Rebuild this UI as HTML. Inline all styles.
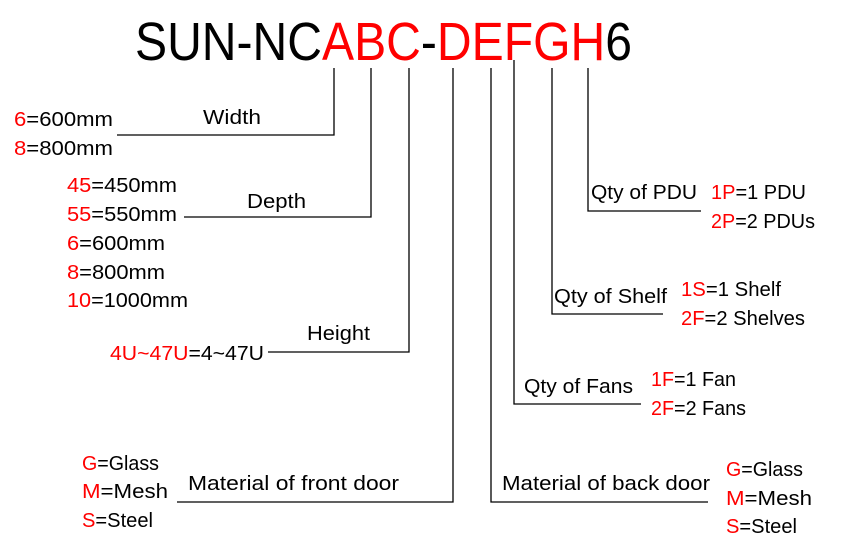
<!DOCTYPE html>
<html><head><meta charset="utf-8"><style>
html,body{margin:0;padding:0;background:#fff;}
svg{display:block;}
text{font-family:"Liberation Sans",sans-serif;font-size:20px;fill:#000;}
.r{fill:#ff0000;}
</style></head><body>
<svg width="841" height="560" viewBox="0 0 841 560" xmlns="http://www.w3.org/2000/svg">
<text x="135" y="60" style="font-size:54px" textLength="497" lengthAdjust="spacingAndGlyphs">SUN-NC<tspan class="r">ABC</tspan>-<tspan class="r">DEFGH</tspan>6</text>
<g stroke="#000" stroke-width="1.3" fill="none">
<polyline points="117,135 334,135 334,68"/>
<polyline points="184,217 371,217 371,68"/>
<polyline points="268,352 409,352 409,68"/>
<polyline points="177,502 453,502 453,68"/>
<polyline points="708,502 491,502 491,68"/>
<polyline points="641,404 514,404 514,60"/>
<polyline points="663,314 552,314 552,68"/>
<polyline points="701,211 588,211 588,68"/>
</g>
<text x="14" y="126" textLength="99" lengthAdjust="spacingAndGlyphs"><tspan class="r">6</tspan>=600mm</text>
<text x="14" y="155" textLength="99" lengthAdjust="spacingAndGlyphs"><tspan class="r">8</tspan>=800mm</text>
<text x="203" y="124" textLength="58" lengthAdjust="spacingAndGlyphs">Width</text>
<text x="67" y="192" textLength="110" lengthAdjust="spacingAndGlyphs"><tspan class="r">45</tspan>=450mm</text>
<text x="67" y="221" textLength="110" lengthAdjust="spacingAndGlyphs"><tspan class="r">55</tspan>=550mm</text>
<text x="67" y="250" textLength="98" lengthAdjust="spacingAndGlyphs"><tspan class="r">6</tspan>=600mm</text>
<text x="67" y="279" textLength="98" lengthAdjust="spacingAndGlyphs"><tspan class="r">8</tspan>=800mm</text>
<text x="67" y="307" textLength="121" lengthAdjust="spacingAndGlyphs"><tspan class="r">10</tspan>=1000mm</text>
<text x="247" y="208" textLength="59" lengthAdjust="spacingAndGlyphs">Depth</text>
<text x="307" y="340" textLength="63" lengthAdjust="spacingAndGlyphs">Height</text>
<text x="110" y="360" textLength="154" lengthAdjust="spacingAndGlyphs"><tspan class="r">4U~47U</tspan>=4~47U</text>
<text x="82" y="470" textLength="77" lengthAdjust="spacingAndGlyphs"><tspan class="r">G</tspan>=Glass</text>
<text x="82" y="498" textLength="86" lengthAdjust="spacingAndGlyphs"><tspan class="r">M</tspan>=Mesh</text>
<text x="82" y="527" textLength="71" lengthAdjust="spacingAndGlyphs"><tspan class="r">S</tspan>=Steel</text>
<text x="188" y="490" textLength="211" lengthAdjust="spacingAndGlyphs">Material of front door</text>
<text x="502" y="490" textLength="208" lengthAdjust="spacingAndGlyphs">Material of back door</text>
<text x="726" y="476" textLength="77" lengthAdjust="spacingAndGlyphs"><tspan class="r">G</tspan>=Glass</text>
<text x="726" y="505" textLength="86" lengthAdjust="spacingAndGlyphs"><tspan class="r">M</tspan>=Mesh</text>
<text x="726" y="533" textLength="71" lengthAdjust="spacingAndGlyphs"><tspan class="r">S</tspan>=Steel</text>
<text x="591" y="199" textLength="106" lengthAdjust="spacingAndGlyphs">Qty of PDU</text>
<text x="711" y="199" textLength="95" lengthAdjust="spacingAndGlyphs"><tspan class="r">1P</tspan>=1 PDU</text>
<text x="711" y="228" textLength="104" lengthAdjust="spacingAndGlyphs"><tspan class="r">2P</tspan>=2 PDUs</text>
<text x="554" y="303" textLength="113" lengthAdjust="spacingAndGlyphs">Qty of Shelf</text>
<text x="681" y="296" textLength="100" lengthAdjust="spacingAndGlyphs"><tspan class="r">1S</tspan>=1 Shelf</text>
<text x="681" y="325" textLength="124" lengthAdjust="spacingAndGlyphs"><tspan class="r">2F</tspan>=2 Shelves</text>
<text x="524" y="393" textLength="109" lengthAdjust="spacingAndGlyphs">Qty of Fans</text>
<text x="651" y="386" textLength="85" lengthAdjust="spacingAndGlyphs"><tspan class="r">1F</tspan>=1 Fan</text>
<text x="651" y="415" textLength="95" lengthAdjust="spacingAndGlyphs"><tspan class="r">2F</tspan>=2 Fans</text>
</svg>
</body></html>
